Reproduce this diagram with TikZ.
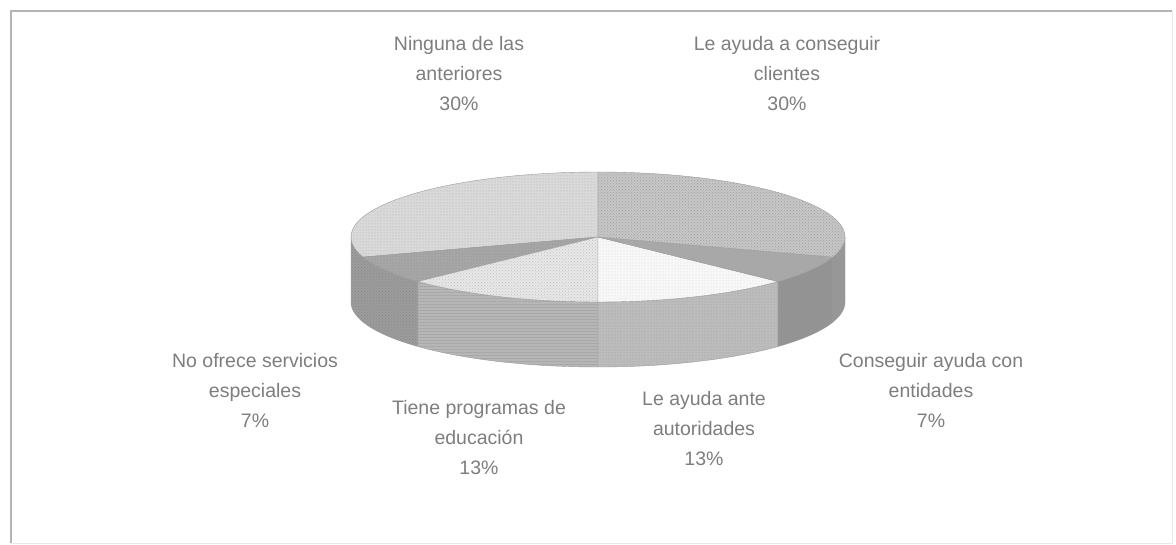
\documentclass[tikz,border=0pt]{standalone}
\usepackage{fontspec}
\setmainfont{Liberation Sans}
\usetikzlibrary{patterns}
\definecolor{txt}{HTML}{7E7E7E}
\definecolor{framec}{HTML}{B4B4B4}
\definecolor{framel}{HTML}{E8E8E8}
\definecolor{edgec}{HTML}{9C9C9C}
\definecolor{ningtop}{HTML}{D9D9D9}
\definecolor{clitop}{HTML}{C6C6C6}
\definecolor{notop}{HTML}{A6A6A6}
\definecolor{progtop}{HTML}{E7E7E7}
\definecolor{autotop}{HTML}{F8F8F8}
\definecolor{entitop}{HTML}{A8A8A8}
\definecolor{leftwall}{HTML}{9C9C9C}
\definecolor{progwall}{HTML}{B6B6B6}
\definecolor{autowall}{HTML}{BCBCBC}
\definecolor{rightwall}{HTML}{979797}
\definecolor{dotc}{HTML}{8A8A8A}
\newcommand\pwall[3]{\filldraw[#3] plot[domain=#1:#2,samples=30] ({598+247*cos(\x)},{237-65*sin(\x)}) -- plot[domain=#2:#1,samples=30] ({598+247*cos(\x)},{302-65*sin(\x)}) -- cycle;}
\newcommand\psector[3]{\filldraw[#3] (598,237) -- plot[domain=#1:#2,samples=40] ({598+247*cos(\x)},{237-65*sin(\x)}) -- cycle;}
\begin{document}
\begin{tikzpicture}[x=1pt,y=-1pt,
  lbl/.style={font=\fontsize{19.5}{30}\selectfont, text=txt, align=center, inner sep=0pt},
  slice/.style={draw=edgec, line width=0.4pt, line join=round}]
\useasboundingbox (0,0) rectangle (1176,545);
\fill[white] (0,0) rectangle (1176,545);
\draw[framel, line width=1pt] (1172,11) -- (1172,543) -- (11,543);
\draw[framec, line width=1.5pt] (11,543) -- (11,11) -- (1172,11);
\coordinate (ctr) at (598,237);
% side walls
\pwall{180}{198}{slice, fill=leftwall, postaction={pattern=crosshatch dots, pattern color=dotc}}
\pwall{198}{223.2}{slice, fill=leftwall, postaction={pattern=crosshatch dots, pattern color=dotc}}
\pwall{223.2}{270}{slice, fill=progwall, postaction={pattern=horizontal lines, pattern color=progwall!93!black}}
\pwall{270}{316.8}{slice, fill=autowall, postaction={pattern=dots, pattern color=autowall!82!black}}
\pwall{316.8}{342}{slice, fill=rightwall!104!white}
\pwall{342}{360}{slice, fill=rightwall}
% top faces
\psector{90}{198}{slice, fill=ningtop, postaction={pattern=dots, pattern color=ningtop!80!black}}
\psector{198}{223.2}{slice, fill=notop, postaction={pattern=dots, pattern color=notop!85!black}}
\psector{223.2}{270}{slice, fill=progtop, postaction={pattern=crosshatch dots, pattern color=progtop!85!black}}
\psector{270}{316.8}{slice, fill=autotop, postaction={pattern=dots, pattern color=autotop!85!black}}
\psector{316.8}{342}{slice, fill=entitop}
\psector{342}{450}{slice, fill=clitop, postaction={pattern=crosshatch dots, pattern color=clitop!82!black}}
% labels
\node[lbl] (ning) at (459,74) {Ninguna de las\\anteriores\\30\%};
\node[lbl] (cli) at (787,74) {Le ayuda a conseguir\\clientes\\30\%};
\node[lbl] (enti) at (931,390) {Conseguir ayuda con\\entidades\\7\%};
\node[lbl] (auto) at (704,429) {Le ayuda ante\\autoridades\\13\%};
\node[lbl] (prog) at (479,438) {Tiene programas de\\educación\\13\%};
\node[lbl] (noof) at (255,390) {No ofrece servicios\\especiales\\7\%};
\end{tikzpicture}
\end{document}
